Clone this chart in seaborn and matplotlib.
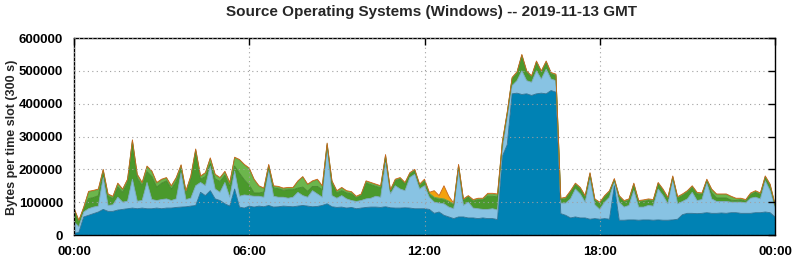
import numpy as np
import pandas as pd
import matplotlib
matplotlib.use("Agg")
import matplotlib.pyplot as plt
import matplotlib.dates as mdates
import seaborn as sns

# 10-minute slots from 2019-11-13 00:00 to 2019-11-14 00:00 (values in kB per 300 s slot)
times = pd.date_range("2019-11-13 00:00", periods=145, freq="10min")

blue = [5, 8, 55, 60, 65, 70, 78, 72, 72, 76, 78, 80,
        82, 80, 82, 80, 80, 82, 80, 82, 82, 84, 85, 86,
        88, 90, 130, 120, 135, 110, 105, 95, 88, 140, 85, 82,
        88, 85, 88, 86, 90, 85, 86, 88, 87, 86, 88, 90,
        88, 86, 87, 90, 95, 86, 84, 85, 82, 84, 80, 82,
        84, 85, 85, 84, 86, 83, 82, 82, 83, 82, 80, 80,
        80, 78, 66, 70, 60, 55, 50, 55, 55, 52, 52, 50,
        52, 50, 50, 47, 240, 275, 430, 432, 428, 430, 425, 430,
        432, 430, 440, 435, 65, 60, 52, 55, 52, 52, 48, 50,
        48, 50, 48, 150, 45, 45, 46, 46, 45, 46, 46, 45,
        46, 45, 45, 46, 48, 62, 66, 66, 65, 66, 68, 66,
        66, 67, 66, 68, 68, 66, 66, 66, 68, 68, 70, 68,
        55]

light_blue = [35, 17, 15, 20, 20, 18, 97, 18, 20, 39, 22, 23,
              88, 23, 23, 80, 28, 23, 28, 28, 23, 26, 105, 22,
              24, 60, 30, 30, 75, 30, 25, 65, 27, 55, 33, 40,
              32, 33, 30, 29, 110, 33, 29, 27, 25, 29, 42, 30,
              27, 49, 38, 25, 175, 34, 28, 35, 28, 21, 22, 23,
              26, 27, 33, 31, 134, 42, 68, 58, 52, 93, 105, 60,
              70, 37, 34, 27, 35, 30, 30, 140, 35, 48, 30, 30,
              26, 28, 30, 29, 20, 85, 25, 38, 72, 40, 40, 70,
              43, 75, 35, 35, 32, 37, 58, 85, 73, 48, 122, 42,
              30, 50, 67, 15, 55, 40, 44, 89, 40, 39, 44, 43,
              94, 75, 50, 124, 47, 40, 44, 64, 40, 42, 92, 44,
              36, 35, 36, 32, 32, 34, 32, 46, 47, 42, 95, 67,
              30]

green = [37, 15, 10, 31, 29, 32, 18, 28, 19, 31, 30, 57,
         113, 70, 45, 33, 70, 41, 50, 55, 35, 53, 14, 20,
         58, 105, 10, 28, 8, 31, 33, 22, 33, 15, 70, 46,
         32, 10, 10, 16, 5, 25, 26, 21, 26, 23, 13, 26,
         18, 13, 23, 23, 3, 38, 16, 15, 18, 20, 11, 15,
         48, 41, 30, 28, 18, 8, 15, 30, 20, 10, 10, 10,
         14, 9, 12, 12, 12, 15, 11, 15, 15, 15, 21, 27,
         29, 40, 38, 40, 20, 10, 20, 22, 45, 25, 15, 25,
         20, 20, 15, 15, 10, 13, 20, 13, 15, 15, 15, 13,
         17, 15, 15, 2, 15, 15, 15, 18, 15, 17, 15, 15,
         15, 15, 15, 5, 17, 18, 20, 15, 20, 15, 5, 18,
         11, 11, 11, 6, 5, 7, 5, 11, 15, 13, 10, 15,
         5]

light_green = [3, 3, 3, 20, 20, 18, 5, 5, 5, 10, 8, 8,
               5, 10, 8, 15, 15, 12, 10, 8, 8, 10, 8, 5,
               8, 5, 8, 10, 15, 12, 10, 10, 10, 25, 40, 45,
               50, 40, 20, 10, 8, 5, 5, 5, 5, 5, 20, 30,
               20, 15, 20, 10, 5, 5, 5, 8, 5, 5, 3, 3,
               5, 5, 5, 5, 5, 3, 3, 3, 3, 3, 3, 3,
               3, 3, 3, 3, 3, 3, 3, 3, 3, 3, 3, 3,
               3, 6, 6, 6, 3, 3, 3, 3, 3, 3, 3, 3,
               3, 3, 3, 3, 3, 3, 3, 3, 3, 3, 3, 3,
               3, 3, 3, 3, 3, 3, 3, 3, 3, 3, 3, 3,
               3, 3, 3, 3, 3, 3, 3, 3, 3, 3, 3, 10,
               10, 10, 10, 10, 5, 3, 3, 3, 3, 3, 3, 3,
               3]

orange = [2, 2, 2, 2, 2, 2, 2, 2, 2, 2, 2, 2,
          2, 2, 2, 2, 2, 2, 2, 2, 2, 2, 2, 2,
          2, 2, 2, 2, 2, 2, 2, 2, 2, 2, 2, 2,
          2, 2, 2, 2, 2, 2, 2, 2, 2, 2, 2, 2,
          2, 2, 2, 2, 2, 2, 2, 2, 2, 2, 2, 2,
          2, 2, 2, 2, 2, 2, 2, 2, 2, 2, 2, 2,
          3, 3, 20, 8, 40, 15, 3, 2, 2, 2, 2, 2,
          2, 3, 3, 3, 2, 2, 2, 2, 2, 2, 2, 2,
          2, 2, 2, 2, 2, 2, 2, 2, 2, 2, 2, 2,
          2, 2, 2, 2, 2, 2, 2, 2, 2, 2, 2, 2,
          2, 2, 2, 2, 2, 2, 2, 2, 2, 2, 2, 2,
          2, 2, 2, 2, 2, 2, 2, 2, 2, 2, 2, 2,
          2]

df = pd.DataFrame({"time": times, "blue": blue, "light_blue": light_blue,
                   "green": green, "light_green": light_green, "orange": orange})
layers = ["blue", "light_blue", "green", "light_green", "orange"]
df[layers] = df[layers] * 1000

colors = ["#0082b4", "#88c3e3", "#4a992c", "#6cb64c", "#f4a20e"]
edges = ["#2a6f90", "#7aa8bf", "#44852b", "#5c9e40", "#c8651c"]

sns.set_theme(style="white")
plt.rcParams["font.family"] = ["Liberation Sans", "DejaVu Sans"]
plt.rcParams["font.weight"] = "bold"

fig = plt.figure(figsize=(7.95, 2.6), dpi=100)
ax = fig.add_axes([74 / 795, 1 - 235 / 260, 701 / 795, 197 / 260])

ax.stackplot(df["time"], *[df[c] for c in layers], colors=colors,
             edgecolor="none", linewidth=0)
cum = np.zeros(len(df))
for c, ec in zip(layers, edges):
    cum = cum + df[c].to_numpy()
    ax.plot(df["time"], cum, color=ec, linewidth=0.6)

ax.set_xlim(pd.Timestamp("2019-11-13 00:00"), pd.Timestamp("2019-11-14 00:00"))
ax.set_ylim(0, 600000)
ax.set_yticks(np.arange(0, 600001, 100000))
ax.xaxis.set_major_locator(mdates.HourLocator(byhour=[0, 6, 12, 18]))
ax.xaxis.set_major_formatter(mdates.DateFormatter("%H:%M"))

ax.grid(True, color="#a0a0a0", linestyle=(0, (1, 3)), linewidth=0.8)
ax.set_axisbelow(False)
for s in ax.spines.values():
    s.set_color("black")
    s.set_linewidth(1.0)
ax.tick_params(direction="in", top=True, right=True, length=5, width=1,
               labelsize=9.5, colors="black", pad=8)
for lab in ax.get_xticklabels() + ax.get_yticklabels():
    lab.set_fontweight("bold")

ax.set_xlabel("")
ax.set_ylabel("")
fig.text(12 / 795, 1 - 137 / 260, "Bytes per time slot (300 s)", rotation=90,
         ha="center", va="center", fontsize=9, fontweight="bold")
fig.text(0.543, 0.953, "Source Operating Systems (Windows) -- 2019-11-13 GMT",
         ha="center", va="center", fontsize=11, fontweight="bold")

fig.savefig("out.png", dpi=100)
